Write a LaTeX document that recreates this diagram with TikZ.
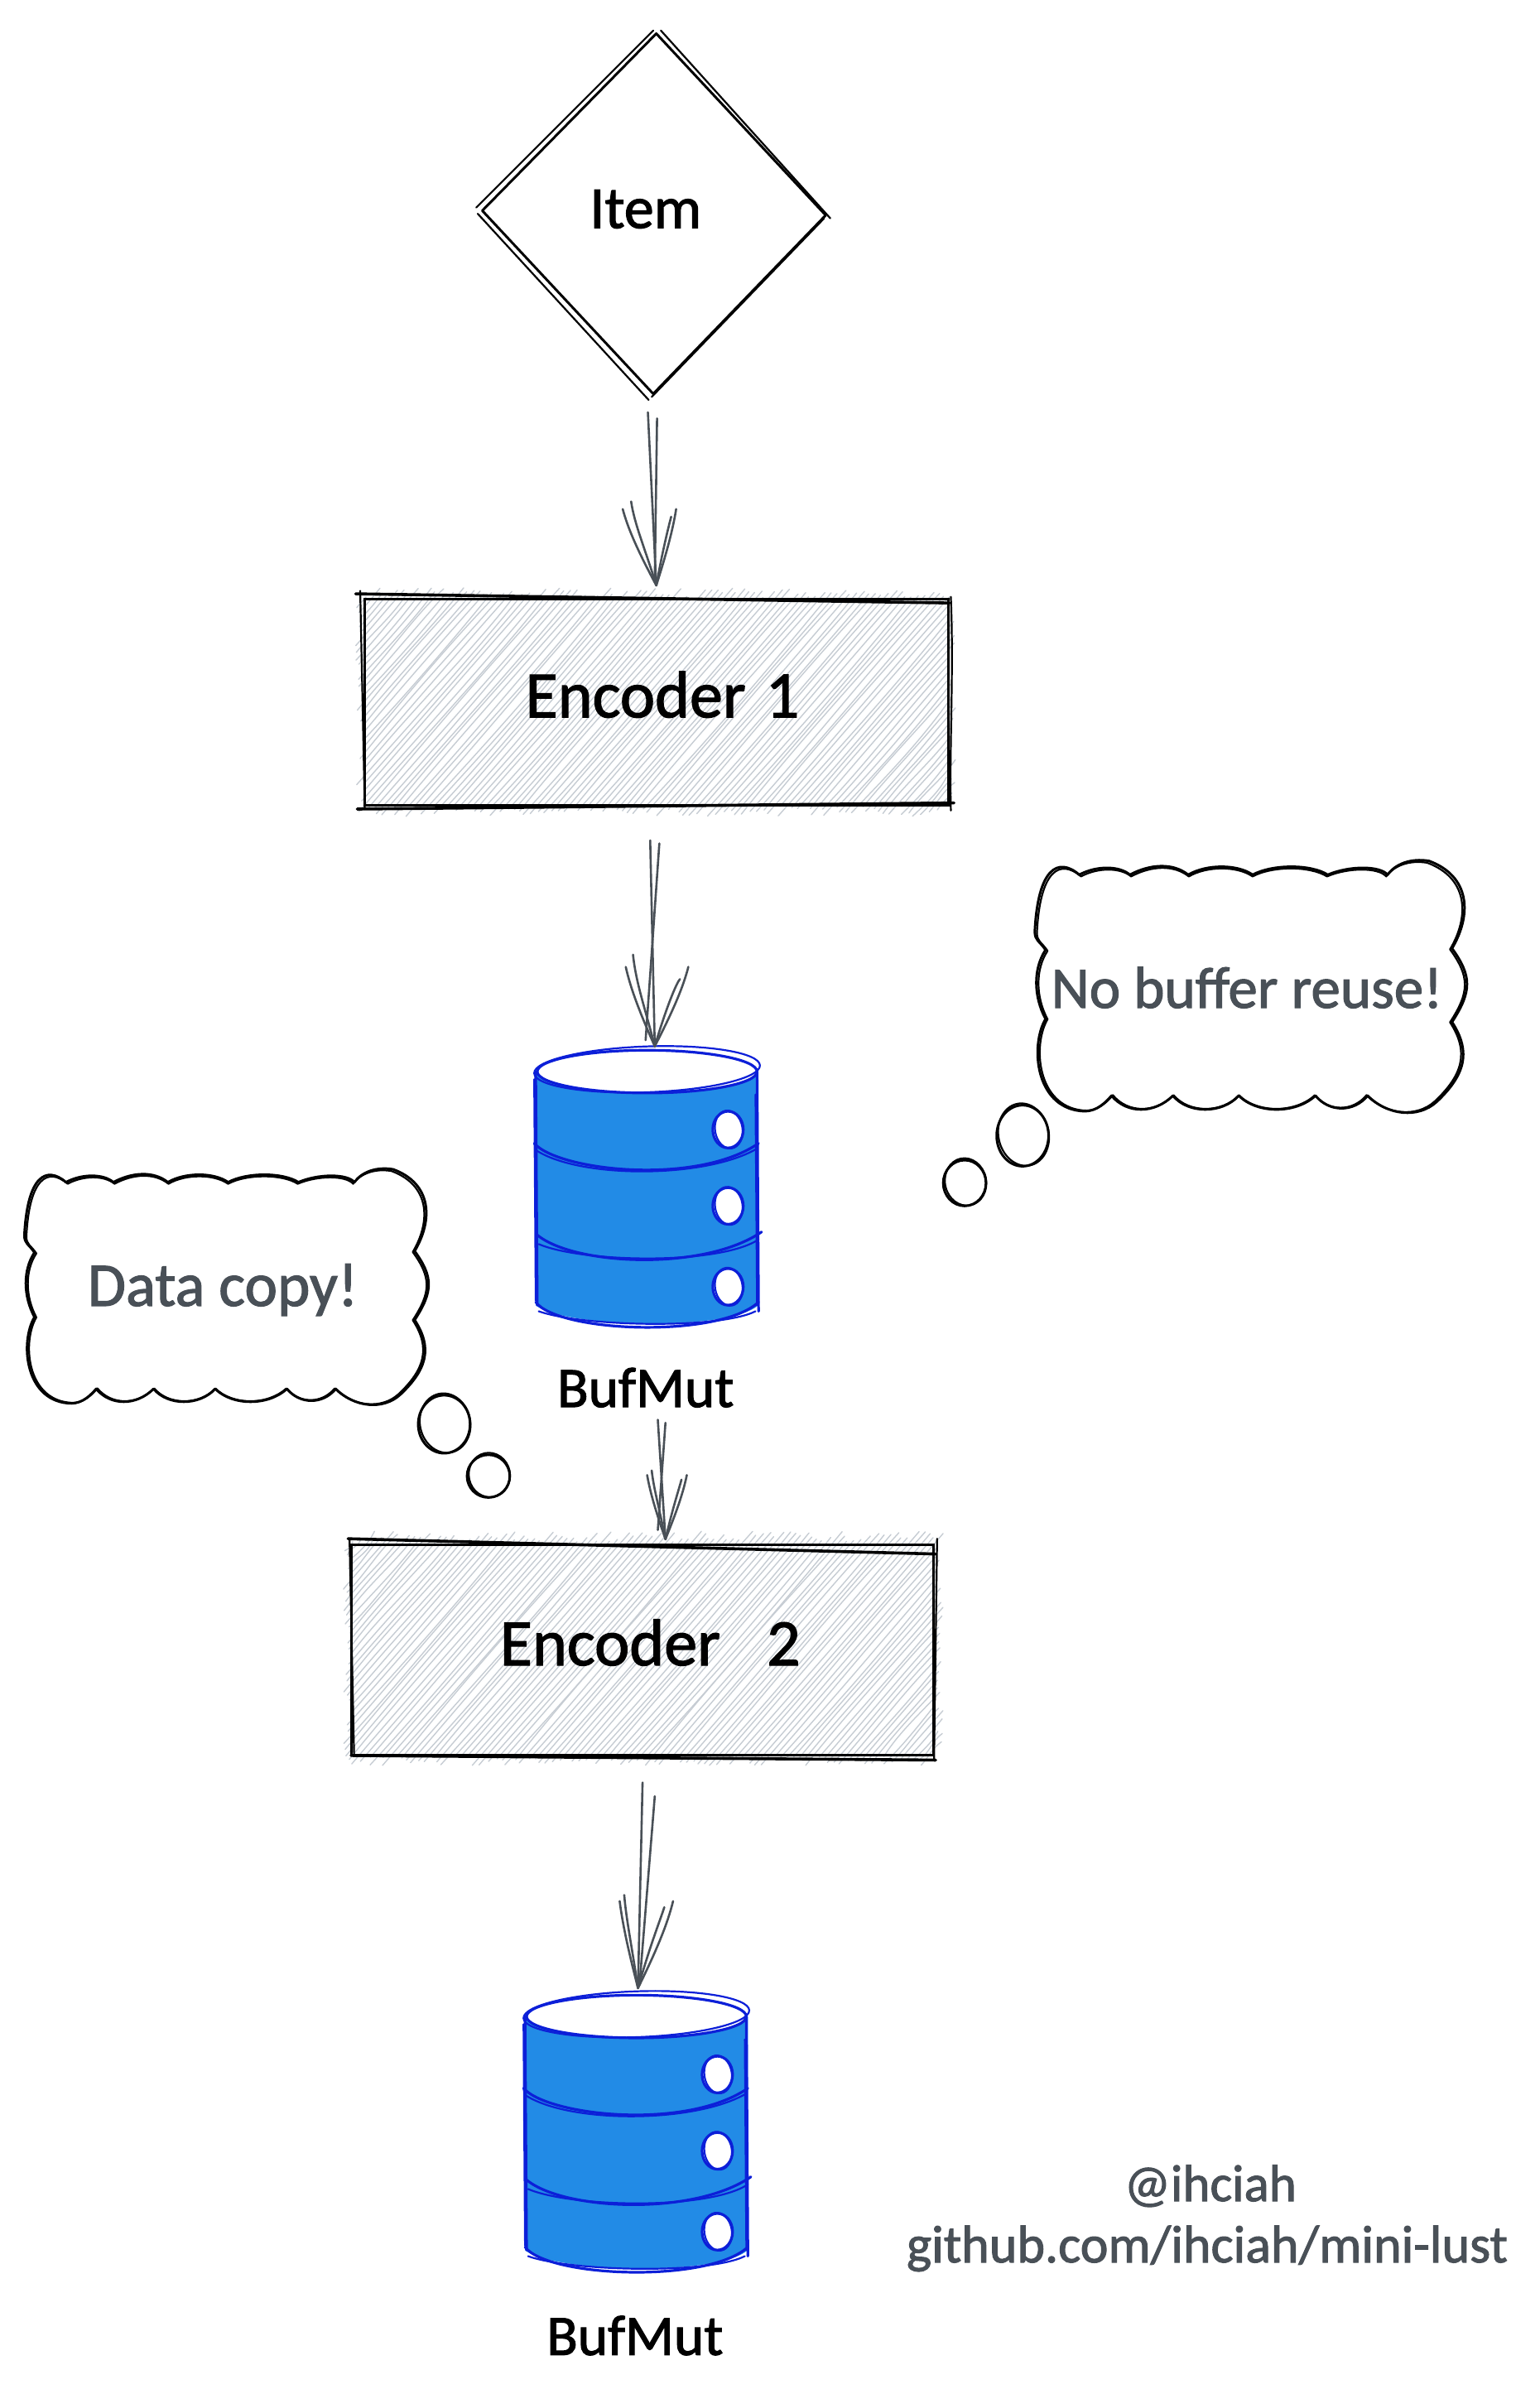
\documentclass[tikz,border=0pt]{standalone}
\usepackage{fontspec}
\setmainfont[RawFeature={embolden=1.6}]{Carlito}
\usetikzlibrary{calc,shapes.geometric}
\definecolor{inkgray}{HTML}{495057}
\definecolor{hatchgray}{HTML}{C6CCD3}
\definecolor{bluefill}{HTML}{228BE6}
\definecolor{bluepen}{HTML}{0C1FD8}
\tikzset{
  pen/.style={draw=black,line width=3pt,line cap=round,line join=round},
  thin pen/.style={draw=black,line width=2.2pt,line cap=round,line join=round},
  boxpen/.style={draw=black,line width=3.6pt,line cap=round},
  flow/.style={draw=inkgray,line width=2.6pt,line cap=round},
  hatchline/.style={draw=hatchgray,line width=1.4pt,line cap=round},
  bluepenline/.style={draw=bluepen,line width=3.2pt,line cap=round,line join=round},
  blacklab/.style={text=black,inner sep=0pt},
  graylab/.style={text=inkgray,inner sep=0pt},
}
% hatching L T R B
\newcommand{\hatchbox}[4]{%
  \pgfmathsetmacro{\hH}{#4-#2}%
  \pgfmathsetmacro{\hSt}{#1-\hH/1.15}%
  \pgfmathsetmacro{\hNx}{\hSt+4.2}%
  \foreach \xz in {\hSt,\hNx,...,#3}{%
    \pgfmathsetmacro{\xa}{max(#1,\xz)-rnd*6}%
    \pgfmathsetmacro{\xb}{min(#3,\xz+\hH/1.15)+rnd*6}%
    \pgfmathsetmacro{\ya}{#4-1.15*(\xa-\xz)}%
    \pgfmathsetmacro{\yb}{#4-1.15*(\xb-\xz)}%
    \pgfmathsetmacro{\mxa}{\xa+(\xb-\xa)/3+rand*2.5}%
    \pgfmathsetmacro{\mya}{\ya+(\yb-\ya)/3+rand*2.5}%
    \pgfmathsetmacro{\mxb}{\xa+2*(\xb-\xa)/3+rand*2.5}%
    \pgfmathsetmacro{\myb}{\ya+2*(\yb-\ya)/3+rand*2.5}%
    \draw[hatchline] (\xa,\ya) .. controls (\mxa,\mya) and (\mxb,\myb) .. (\xb,\yb);
  }%
}
% cloud outline in local coordinates (282 x 164)
\newcommand{\cloudpath}{%
  (29,9) .. controls (15,-3) and (2,5) .. (0,46) .. controls (0,52) and (3,52) .. (7,58)
  .. controls (-1,70) and (-1,88) .. (7,103)
  .. controls (-3,120) and (0,160) .. (30,163) .. controls (38,164) and (44,160) .. (50,153)
  .. controls (60,165) and (78,165) .. (90,153)
  .. controls (100,165) and (122,165) .. (133,153)
  .. controls (145,165) and (170,165) .. (183,153)
  .. controls (192,164) and (208,164) .. (217,153)
  .. controls (230,166) and (250,168) .. (262,157) .. controls (280,140) and (285,125) .. (272,105)
  .. controls (285,85) and (285,75) .. (272,57)
  .. controls (285,35) and (284,10) .. (257,0) .. controls (245,-2) and (235,2) .. (230,9)
  .. controls (225,3) and (205,3) .. (191,9)
  .. controls (180,2) and (155,2) .. (142,9)
  .. controls (132,2) and (112,2) .. (100,9)
  .. controls (90,1) and (75,2) .. (62,9)
  .. controls (55,3) and (40,3) .. (29,9)
}
\newcommand{\cloudat}[3]{%
  \begin{scope}[shift={(#1,#2)},scale=#3]
    \draw[pen] \cloudpath;
    \begin{scope}[shift={(1.4,1.2)},xscale=0.99,yscale=0.99]
      \draw[thin pen] \cloudpath;
    \end{scope}
  \end{scope}%
}
\newcommand{\bubble}[4]{%
  \draw[pen] (#1,#2) ellipse [x radius=#3,y radius=#4];
  \draw[thin pen,rotate around={12:(#1,#2)}] (#1+0.8,#2-0.6) ellipse [x radius=#3-0.5,y radius=#4+0.6];
}
% cylinder in local coordinates (146 x 186)
\newcommand{\hole}[2]{%
  \fill[white] (#1,#2) ellipse [x radius=10.5,y radius=12.5];
  \draw[bluepenline] (#1,#2) ellipse [x radius=10,y radius=12];
  \draw[bluepenline,line width=2.2pt,rotate around={9:(#1,#2)}] (#1+0.5,#2) ellipse [x radius=9,y radius=12.5];
}
\newcommand{\cylinderat}[2]{%
  \begin{scope}[shift={(#1,#2)}]
    \fill[bluefill] (0,15) -- (0,168) .. controls (15,182) and (125,186) .. (146,168) -- (146,15) -- cycle;
    \fill[white] (73,15) ellipse [x radius=72,y radius=14];
    \draw[bluepenline] (73,15) ellipse [x radius=72,y radius=14];
    \draw[bluepenline,line width=2.2pt,rotate around={2:(73,15)}] (73,13.5) ellipse [x radius=74,y radius=15];
    \draw[bluepenline] (0,15) -- (1,168);
    \draw[bluepenline,line width=2.2pt] (-1,20) -- (0,165);
    \draw[bluepenline] (145,15) -- (146,172);
    \draw[bluepenline,line width=2.2pt] (144,30) -- (145,168);
    \draw[bluepenline] (-1,62) .. controls (15,80) and (105,90) .. (146,62);
    \draw[bluepenline,line width=2.2pt] (1,67) .. controls (30,85) and (110,85) .. (144,66);
    \draw[bluepenline] (1,122) .. controls (25,142) and (110,146) .. (148,120);
    \draw[bluepenline,line width=2.2pt] (2,128) .. controls (30,140) and (120,142) .. (146,125);
    \draw[bluepenline] (0,166) .. controls (15,186) and (120,190) .. (146,166);
    \draw[bluepenline,line width=2.2pt] (2,172) .. controls (30,182) and (120,184) .. (144,172);
    \hole{126}{53}
    \hole{126}{103}
    \hole{126}{156}
  \end{scope}%
}
\newcommand{\wings}[5]{% tip, left dx, right dx, dy, bend
  \draw[flow] (#1) .. controls ($(#1)+(#2*0.55,#4*0.45)$) and ($(#1)+(#2*0.85,#4*0.75)$) .. ($(#1)+(#2,#4)$);
  \draw[flow] (#1) .. controls ($(#1)+(#2*0.35,#4*0.5)$) and ($(#1)+(#2*0.65,#4*0.8)$) .. ($(#1)+(#2*0.75,#4-#5)$);
  \draw[flow] (#1) .. controls ($(#1)+(#3*0.55,#4*0.45)$) and ($(#1)+(#3*0.85,#4*0.75)$) .. ($(#1)+(#3,#4)$);
  \draw[flow] (#1) .. controls ($(#1)+(#3*0.35,#4*0.5)$) and ($(#1)+(#3*0.65,#4*0.8)$) .. ($(#1)+(#3*0.75,#4+#5)$);
}
\begin{document}
\begin{tikzpicture}[x=1.8434pt,y=-1.8434pt]
\useasboundingbox (0,0) rectangle (1008.5,1568.3);
\pgfmathsetseed{7}
% Item diamond
\node[diamond,shape aspect=1,minimum width=420.3pt,minimum height=435pt,inner sep=0pt] (item) at (427.5,140) {};
\draw[pen] (430,22) -- (541,141) -- (428,258) -- (316,138) -- cycle;
\draw[thin pen] (433,20) -- (544,143);
\draw[thin pen] (540,143) -- (427,260);
\draw[thin pen] (425,262) -- (313,140);
\draw[thin pen] (312,136) -- (428,20);
\node[blacklab,font=\fontsize{72}{78}\selectfont] (itemtext) at (423,137) {Item};
% Encoder 1
\hatchbox{239}{392}{620}{528}
\node[rectangle,draw=black,line width=3.2pt,minimum width=705pt,minimum height=249.4pt,inner sep=0pt] (enc1) at (430,460) {};
\draw[boxpen] (233,389) -- (622,395);
\draw[thin pen] (236,387) -- (239,530);
\draw[thin pen] (623,391) .. controls (625,440) and (622,490) .. (623,531);
\draw[boxpen] (234,530) -- (625,526);
\node[blacklab,font=\fontsize{80}{88}\selectfont] (enc1text) at (434,455) {Encoder\hspace{6pt} 1};
% Buffer 1
\node[rectangle,minimum width=268.7pt,minimum height=341pt,inner sep=0pt] (buf1) at (424,780) {};
\cylinderat{351}{687}
\node[blacklab,font=\fontsize{69}{75}\selectfont] (buf1text) at (423,909) {BufMut};
% Encoder 2
\hatchbox{231}{1010}{612}{1150}
\node[rectangle,draw=black,line width=3.2pt,minimum width=703pt,minimum height=253.8pt,inner sep=0pt] (enc2) at (421,1081) {};
\draw[boxpen] (228,1008) -- (613,1018);
\draw[thin pen] (229,1008) -- (232,1150);
\draw[thin pen] (614,1008) -- (612,1152);
\draw[boxpen] (230,1150) -- (613,1153);
\node[blacklab,font=\fontsize{80}{88}\selectfont] (enc2text) at (426,1076) {Encoder\hspace{38pt} 2};
% Buffer 2
\node[rectangle,minimum width=268.7pt,minimum height=341pt,inner sep=0pt] (buf2) at (417,1399) {};
\cylinderat{344}{1306}
\node[blacklab,font=\fontsize{69}{75}\selectfont] (buf2text) at (416,1530) {BufMut};
% Arrow 1
\coordinate (tipa) at ($(enc1.north)+(0,-8)$);
\draw[flow] ($(item.south)+(-3,12)$) -- (tipa);
\draw[flow] ($(item.south)+(3,16)$) -- ($(tipa)+(-1,-4)$);
\wings{tipa}{-22}{13}{-50}{5}
% Arrow 2
\coordinate (tipb) at ($(buf1.north)+(5,-2)$);
\draw[flow] ($(enc1.south)+(-4,22)$) -- (tipb);
\draw[flow] ($(enc1.south)+(2,24)$) -- ($(tipb)+(-6,-4)$);
\wings{tipb}{-19}{22}{-52}{8}
% Arrow 3
\coordinate (tipc) at ($(enc2.north)+(15,-3)$);
\draw[flow] ($(buf1text.south)+(8,8)$) -- (tipc);
\draw[flow] ($(buf1text.south)+(13,10)$) -- ($(tipc)+(-5,-6)$);
\wings{tipc}{-12}{14}{-42}{3}
% Arrow 4
\coordinate (tipd) at ($(buf2.north)+(1,-4)$);
\draw[flow] ($(enc2.south)+(0,17)$) -- (tipd);
\draw[flow] ($(enc2.south)+(8,26)$) -- ($(tipd)+(1,-2)$);
\wings{tipd}{-12}{23}{-57}{4}
% Clouds
\cloudat{678}{564}{1.005}
\node[graylab,font=\fontsize{71}{78}\selectfont] (cloudatext) at (817,647) {No buffer reuse!};
\bubble{670}{744}{17}{20}
\bubble{632}{775}{14}{15}
\cloudat{16}{766}{0.94}
\node[graylab,font=\fontsize{75}{82}\selectfont] (cloudbtext) at (146,845) {Data copy!};
\bubble{291}{933}{17}{19}
\bubble{320}{967}{14}{14}
% Credits
\node[graylab,font=\fontsize{63}{69}\selectfont] (credit1) at (793,1432) {@ihciah};
\node[graylab,font=\fontsize{64}{70}\selectfont] (credit2) at (791,1473) {github.com/ihciah/mini-lust};
\end{tikzpicture}
\end{document}
